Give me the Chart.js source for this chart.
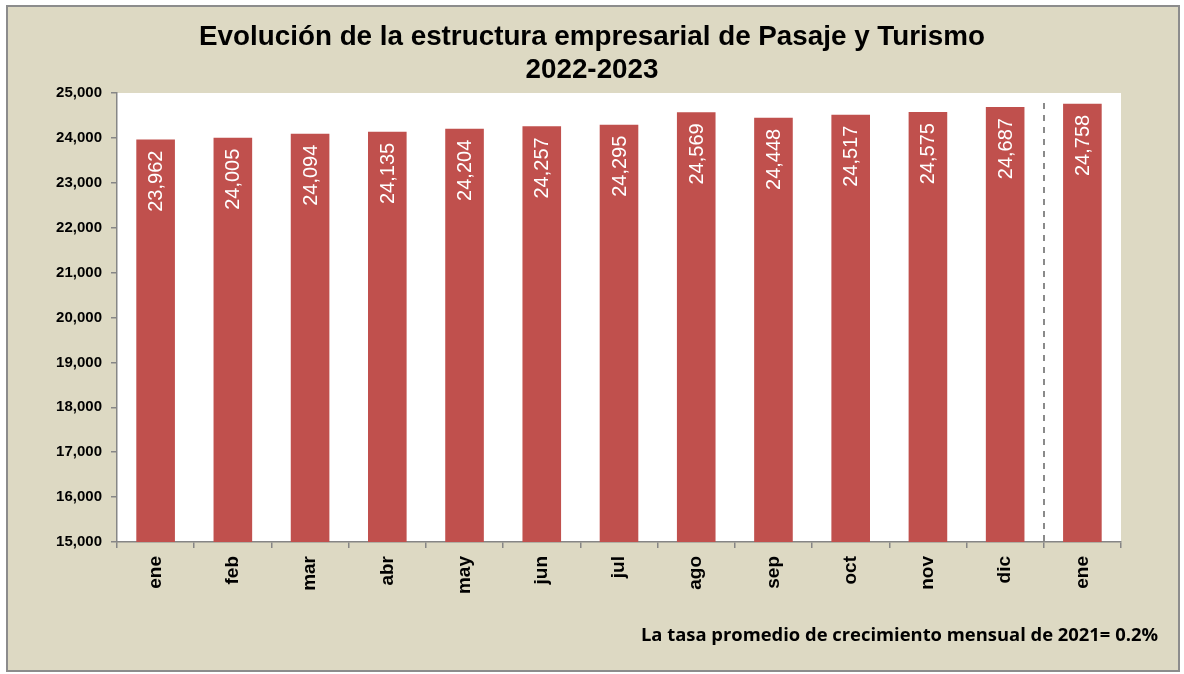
<!DOCTYPE html>
<html>
<head>
<meta charset="utf-8">
<title>Evolución de la estructura empresarial de Pasaje y Turismo</title>
<script src="https://cdn.jsdelivr.net/npm/chart.js@4.4.1/dist/chart.umd.min.js"></script>
<style>
  html, body { margin: 0; padding: 0; background: #ffffff; }
  #wrap { position: relative; width: 1184px; height: 674px; }
</style>
</head>
<body>
<div id="wrap"><canvas id="chart" width="1184" height="674"></canvas></div>
<script>
// Data
const months = ["ene", "feb", "mar", "abr", "may", "jun", "jul", "ago", "sep", "oct", "nov", "dic", "ene"];
const empresas = [23962, 24005, 24094, 24135, 24204, 24257, 24295, 24569, 24448, 24517, 24575, 24687, 24758];
const titleLines = ["Evolución de la estructura empresarial de Pasaje y Turismo", "2022-2023"];
const footNote = "La tasa promedio de crecimiento mensual de 2021= 0.2%";

const barColor = "#C0504D";
const axisColor = "#868686";
const panelColor = "#DDD9C3";
const arial = "Arial, 'Liberation Sans', sans-serif";

// panel background, frame and white plot area
const backgroundPlugin = {
  id: "panel",
  beforeDraw(chart) {
    const { ctx, chartArea } = chart;
    ctx.save();
    ctx.fillStyle = "#ffffff";
    ctx.fillRect(0, 0, chart.width, chart.height);
    ctx.fillStyle = panelColor;
    ctx.fillRect(7, 6, 1172, 665);
    ctx.strokeStyle = "#8C8C8C";
    ctx.lineWidth = 2;
    ctx.strokeRect(7, 6, 1172, 665);
    ctx.fillStyle = "#ffffff";
    ctx.fillRect(chartArea.left, chartArea.top, chartArea.right - chartArea.left, chartArea.bottom - chartArea.top);
    ctx.restore();
  }
};

// dashed separator between dic and the next ene
const separatorPlugin = {
  id: "separator",
  beforeDatasetsDraw(chart) {
    const { ctx, chartArea } = chart;
    const x = chart.scales.x;
    const px = (x.getPixelForValue(11) + x.getPixelForValue(12)) / 2;
    ctx.save();
    ctx.strokeStyle = "#8A8A8A";
    ctx.lineWidth = 2;
    ctx.setLineDash([6, 6]);
    ctx.beginPath();
    ctx.moveTo(Math.round(px), chartArea.top + 10);
    ctx.lineTo(Math.round(px), chartArea.bottom);
    ctx.stroke();
    ctx.restore();
  }
};

// rotated white values inside the top of each bar
const valueLabelPlugin = {
  id: "valueLabels",
  afterDatasetsDraw(chart) {
    const { ctx } = chart;
    const meta = chart.getDatasetMeta(0);
    ctx.save();
    ctx.fillStyle = "#ffffff";
    ctx.font = "20px " + arial;
    ctx.textAlign = "right";
    ctx.textBaseline = "middle";
    meta.data.forEach((bar, i) => {
      ctx.save();
      ctx.translate(bar.x + 1, bar.y + 11);
      ctx.rotate(-Math.PI / 2);
      ctx.fillText(empresas[i].toLocaleString("en-US"), 0, 0);
      ctx.restore();
    });
    ctx.restore();
  }
};

// two-line title centred on the panel, and the footnote at bottom right
const textPlugin = {
  id: "texts",
  afterDraw(chart) {
    const { ctx } = chart;
    ctx.save();
    ctx.fillStyle = "#000000";
    ctx.textAlign = "center";
    ctx.textBaseline = "middle";
    ctx.font = "bold 27.8px " + arial;
    ctx.fillText(titleLines[0], 592, 37);
    ctx.fillText(titleLines[1], 592, 70);
    ctx.font = "bold 18.4px 'Open Sans', sans-serif";
    ctx.textAlign = "right";
    ctx.fillText(footNote, 1158, 636);
    ctx.restore();
  }
};

new Chart(document.getElementById("chart"), {
  type: "bar",
  data: {
    labels: months,
    datasets: [
      {
        label: "Empresas",
        data: empresas,
        backgroundColor: barColor,
        borderWidth: 0,
        barPercentage: 0.5,
        categoryPercentage: 1.0
      }
    ]
  },
  options: {
    responsive: false,
    animation: false,
    layout: {
      padding: { top: 93, left: 10, right: 63, bottom: 40 }
    },
    plugins: {
      legend: { display: false },
      tooltip: { enabled: false },
      title: { display: false }
    },
    scales: {
      x: {
        afterFit(scale) { scale.height = 92; },
        grid: {
          display: true,
          offset: true,
          drawOnChartArea: false,
          drawTicks: true,
          tickLength: 6,
          color: axisColor,
          lineWidth: 1.5
        },
        border: { display: true, color: axisColor, width: 1.5 },
        ticks: {
          color: "#000000",
          minRotation: 90,
          maxRotation: 90,
          padding: 8,
          font: { family: arial, size: 19, weight: "bold" }
        }
      },
      y: {
        min: 15000,
        max: 25000,
        afterFit(scale) { scale.width = 107; },
        grid: {
          display: true,
          drawOnChartArea: false,
          drawTicks: true,
          tickLength: 6,
          color: axisColor,
          lineWidth: 1.5
        },
        border: { display: true, color: axisColor, width: 1.5 },
        ticks: {
          stepSize: 1000,
          color: "#000000",
          padding: 9,
          font: { family: arial, size: 15, weight: "bold" },
          callback: (v) => v.toLocaleString("en-US")
        }
      }
    }
  },
  plugins: [backgroundPlugin, separatorPlugin, valueLabelPlugin, textPlugin]
});
</script>
</body>
</html>
